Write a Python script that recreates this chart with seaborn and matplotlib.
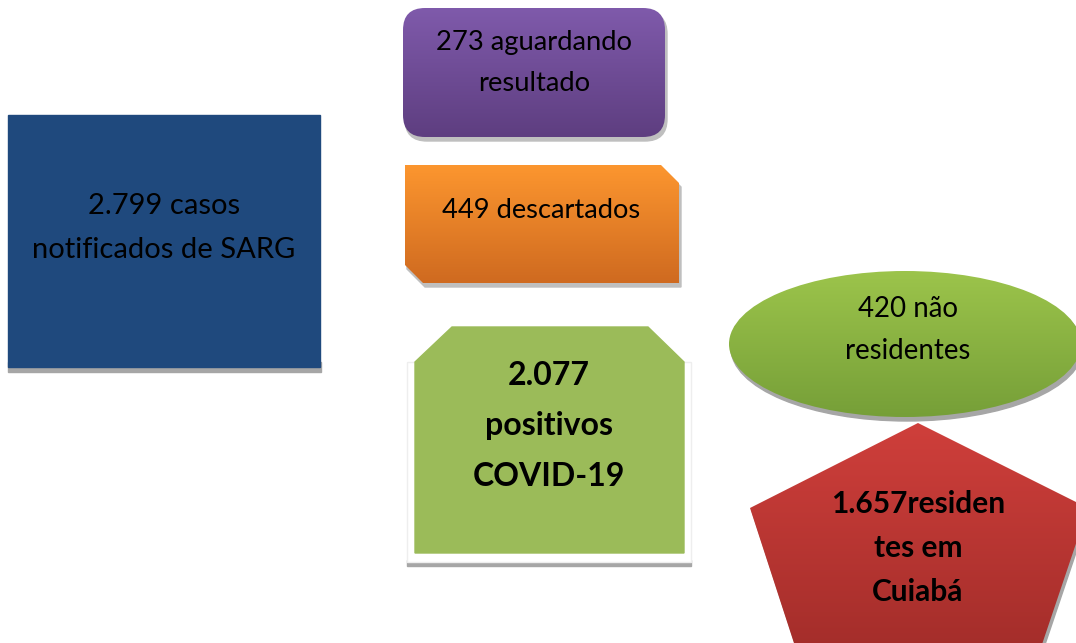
import numpy as np
import matplotlib.pyplot as plt
import seaborn as sns
from matplotlib.patches import Rectangle, FancyBboxPatch, Polygon, Ellipse
from matplotlib.colors import LinearSegmentedColormap

sns.set_theme(style="white")
plt.rcParams['font.family'] = ['Lato', 'DejaVu Sans']
plt.rcParams['text.color'] = 'black'

# values and labels shown in the boxes
case_counts = ["2.799", "273", "449", "2.077", "420", "1.657"]
box_labels = [
    "2.799 casos\nnotificados de SARG",
    "273 aguardando\nresultado",
    "449 descartados",
    "2.077\npositivos\nCOVID-19",
    "420 não\nresidentes",
    "1.657residen\ntes em\nCuiabá",
]
top_colors = ["#1F497D", "#7F5AAB", "#FC962F", "#9BBB59", "#9CC44B", "#CF3F3B"]
bottom_colors = ["#1F497D", "#5E3E80", "#CF6A20", "#9BBB59", "#769F38", "#9E2B28"]

W, H = 1076, 643
fig = plt.figure(figsize=(W / 100, H / 100), dpi=100)
ax = fig.add_axes([0, 0, 1, 1])
ax.set_xlim(0, W)
ax.set_ylim(H, 0)
ax.axis("off")

SHADOW = "#A6A6A6"


def gradient_fill(patch, c_top, c_bot, bounds):
    x0, y0, x1, y1 = bounds
    ax.add_patch(patch)
    cmap = LinearSegmentedColormap.from_list("g", [c_top, c_bot])
    grad = np.linspace(0, 1, 256).reshape(-1, 1)
    im = ax.imshow(grad, cmap=cmap, extent=(x0, x1, y1, y0), aspect="auto",
                   zorder=patch.get_zorder() + 0.1)
    im.set_clip_path(patch)


# 1) blue square
ax.add_patch(Rectangle((8, 362), 313, 10, color=SHADOW, zorder=1))
ax.add_patch(Rectangle((8, 115), 312, 252, color=top_colors[0], zorder=2))
ax.text(164, 228, box_labels[0], ha="center", va="center", fontsize=21,
        color="black", linespacing=1.85, zorder=5)

# 2) purple rounded box
ax.add_patch(FancyBboxPatch((405, 12), 262, 129,
                            boxstyle="round,pad=0,rounding_size=22",
                            color="#BFBFBF", zorder=1))
purple = FancyBboxPatch((403, 8), 262, 129, boxstyle="round,pad=0,rounding_size=22",
                        facecolor="none", edgecolor="none", zorder=2)
gradient_fill(purple, top_colors[1], bottom_colors[1], (403, 8, 665, 137))
ax.text(534, 63, box_labels[1], ha="center", va="center", fontsize=19.7,
        linespacing=1.76, zorder=5)

# 3) orange snipped box
def orange_pts(dx, dy):
    return [(405 + dx, 165 + dy), (661 + dx, 165 + dy), (679 + dx, 183 + dy),
            (679 + dx, 283 + dy), (423 + dx, 283 + dy), (405 + dx, 265 + dy)]


ax.add_patch(Polygon(orange_pts(2, 4), closed=True, color="#BFBFBF", zorder=1))
orange = Polygon(orange_pts(0, 0), closed=True, facecolor="none", edgecolor="none", zorder=2)
gradient_fill(orange, top_colors[2], bottom_colors[2], (405, 165, 679, 283))
ax.text(541, 211, box_labels[2], ha="center", va="center", fontsize=19.6, zorder=5)

# 4) green snipped box with white frame
ax.add_patch(Rectangle((407, 560), 284, 6, color=SHADOW, zorder=1))
ax.add_patch(Rectangle((407, 362), 284, 200, facecolor="white",
                       edgecolor="#EEEEEE", lw=1, zorder=1.5))
green_pts = [(452, 327), (648, 327), (684, 362), (684, 553), (415, 553), (415, 362)]
ax.add_patch(Polygon(green_pts, closed=True, color=top_colors[3], zorder=2))
ax.text(549, 426, box_labels[3], ha="center", va="center", fontsize=23,
        fontweight="bold", linespacing=1.89, zorder=5)

# 5) green ellipse
ax.add_patch(Ellipse((907, 348), 352, 146, color="#A6A6A6", zorder=1))
ellipse = Ellipse((905, 344), 352, 146, facecolor="none", edgecolor="none", zorder=2)
gradient_fill(ellipse, top_colors[4], bottom_colors[4], (729, 271, 1081, 417))
ax.text(908, 330, box_labels[4], ha="center", va="center", fontsize=19.9,
        linespacing=1.75, zorder=5)

# 6) red pentagon
pent_pts = [(918, 423), (1088, 508), (1030, 680), (806, 680), (750, 508)]
shadow_pts = [(x + 2, y + 3) for x, y in pent_pts]
ax.add_patch(Polygon(shadow_pts, closed=True, color="#A6A6A6", zorder=1))
pent = Polygon(pent_pts, closed=True, facecolor="none", edgecolor="none", zorder=2)
gradient_fill(pent, top_colors[5], bottom_colors[5], (750, 423, 1088, 680))
ax.text(918, 548, box_labels[5], ha="center", va="center", fontsize=21.5,
        fontweight="bold", linespacing=1.69, zorder=5)

fig.savefig("out.png", dpi=100, facecolor="white")
